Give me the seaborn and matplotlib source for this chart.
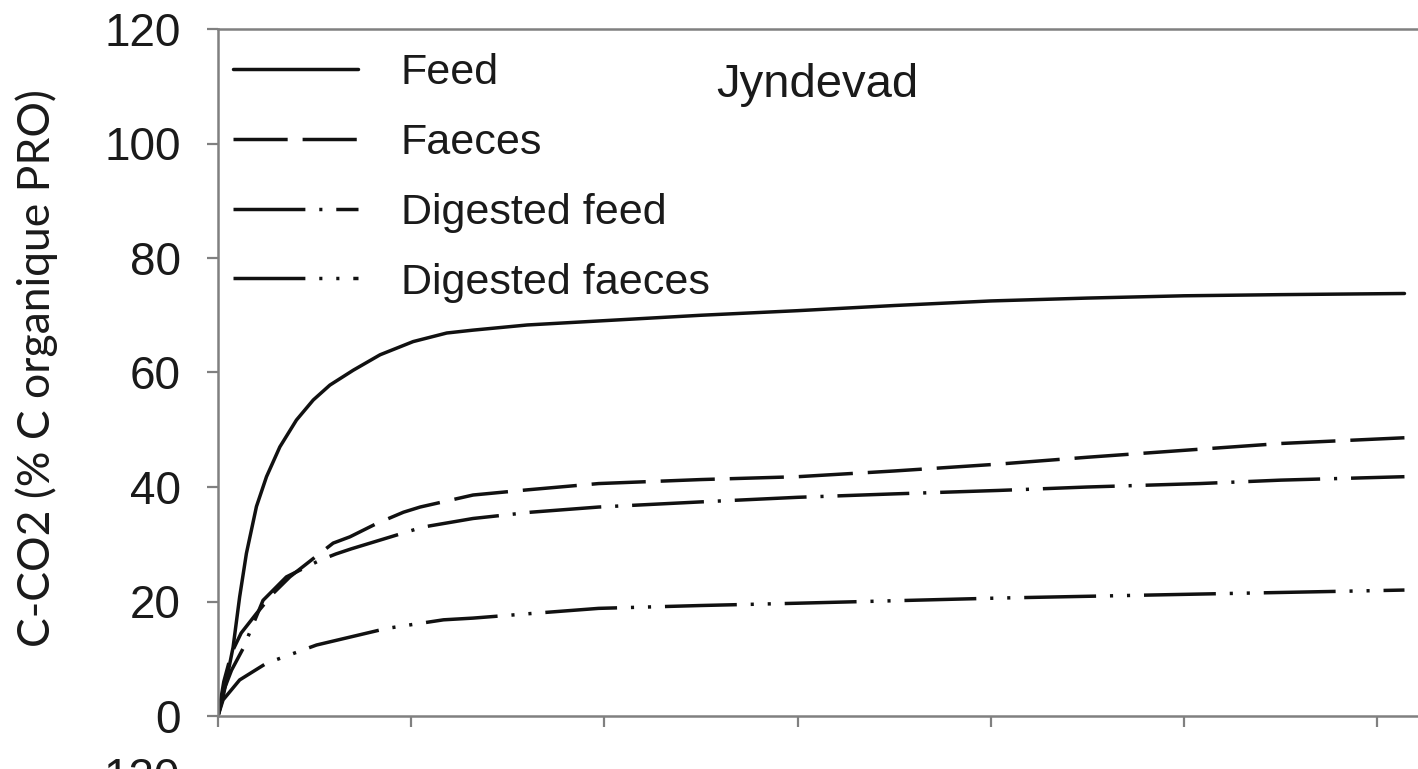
import matplotlib
matplotlib.use("Agg")
import matplotlib.pyplot as plt
import seaborn as sns
import pandas as pd

# ---- data ----
feed_x = [0, 0.26, 0.78, 1.12, 1.47, 1.99, 2.51, 3.2, 4.06, 4.93, 5.79, 7.0, 8.39,
          10.1, 11.84, 13.2, 16.0, 19.7, 25, 30, 35, 40, 45, 50, 55, 61.4]
feed_y = [0, 3.3, 12.0, 20.8, 28.4, 36.6, 41.8, 47.0, 51.7, 55.2, 57.8, 60.4, 63.1,
          65.4, 66.9, 67.4, 68.3, 69.0, 70.0, 70.8, 71.7, 72.5, 73.0, 73.4, 73.6, 73.8]

faeces_x = [0, 0.3, 0.7, 1.2, 1.99, 2.85, 3.72, 4.93, 5.96, 6.83, 8.2, 9.6, 10.46,
            13.2, 16, 19.7, 25, 30, 35, 40.4, 45, 50.8, 55, 61.4]
faeces_y = [0, 6, 11, 14.5, 17.9, 21.4, 24.3, 27.5, 30.2, 31.3, 33.6, 35.6, 36.5,
            38.6, 39.5, 40.6, 41.3, 41.8, 42.8, 44.0, 45.2, 46.6, 47.6, 48.6]

dfeed_x = [0, 0.3, 0.7, 1.3, 2.33, 3.54, 5.27, 6.1, 6.9, 10.6, 13.2, 16.2, 19.7,
           25, 30, 35, 40.4, 45, 50.8, 55, 61.4]
dfeed_y = [0, 4.5, 8.0, 11.8, 20.2, 24.3, 27.2, 28.3, 29.2, 33.0, 34.5, 35.6, 36.5,
           37.4, 38.2, 38.8, 39.4, 40.0, 40.6, 41.2, 41.8]

dfaeces_x = [0, 0.26, 1.12, 2.5, 5.1, 8.73, 11.67, 13.2, 16.2, 19.7, 25, 30, 40.4,
             50.8, 61.4]
dfaeces_y = [0, 2.8, 6.3, 9.2, 12.4, 15.3, 16.8, 17.1, 17.9, 18.8, 19.3, 19.7, 20.6,
             21.3, 22.0]

series_names = ["Feed", "Faeces", "Digested feed", "Digested faeces"]
y_ticks = [0, 20, 40, 60, 80, 100, 120]
x_ticks = [0, 10, 20, 30, 40, 50, 60]
y_label = "C-CO2 (% C organique PRO)"
site = "Jyndevad"

sns.set_theme(style="white")
plt.rcParams["font.family"] = ["Liberation Sans", "DejaVu Sans"]

fig = plt.figure(figsize=(14.18, 7.69), dpi=100)
ax = fig.add_axes([218 / 1418, 53 / 769, 1200 / 1418, 687 / 769])

styles = [
    "-",
    (0, (15.6, 4.3)),
    (0, (20.7, 4.0, 0.9, 4.0)),
    (0, (20.7, 4.0, 0.9, 4.0, 0.9, 4.0)),
]
xs = [feed_x, faeces_x, dfeed_x, dfaeces_x]
ys = [feed_y, faeces_y, dfeed_y, dfaeces_y]
for name, x, y, ls in zip(series_names, xs, ys, styles):
    df = pd.DataFrame({"x": x, "y": y})
    sns.lineplot(data=df, x="x", y="y", ax=ax, color="#111111", linewidth=2.5,
                 linestyle=ls, label=name, sort=False, estimator=None)

ax.set_xlim(0, 62.1)
ax.set_ylim(0, 120)
ax.set_xticks(x_ticks)
ax.set_xticklabels([])
ax.set_yticks(y_ticks)
ax.set_yticklabels([str(v) for v in y_ticks], fontsize=33, color="#1a1a1a")
ax.set_xlabel("")
ax.set_ylabel(y_label, fontsize=32, family=["Lato", "DejaVu Sans"], color="#1a1a1a")
ax.yaxis.set_label_coords(-0.133, 0.507)

for side in ["left", "bottom", "top"]:
    ax.spines[side].set_color("#808080")
    ax.spines[side].set_linewidth(1.8)
ax.spines["right"].set_visible(False)
ax.tick_params(axis="both", which="major", direction="out", length=8, width=1.6,
               color="#808080", left=True, bottom=True)
ax.tick_params(axis="y", pad=19)

leg = ax.legend(loc="upper left", bbox_to_anchor=(0.0125, 0.9645), frameon=False,
                fontsize=31, handlelength=2.9, handletextpad=1.0,
                labelspacing=0.69, borderpad=0, borderaxespad=0)
for t in leg.get_texts():
    t.set_color("#1a1a1a")

ax.text(0.415, 0.901, site, transform=ax.transAxes, fontsize=34,
        color="#1a1a1a", ha="left", va="baseline")

# partially visible tick label of the panel below (cropped in the reference)
fig.text(180 / 1418, -10 / 769, "120", fontsize=33, color="#1a1a1a",
         ha="right", va="center")

fig.savefig("out.png", dpi=100)
